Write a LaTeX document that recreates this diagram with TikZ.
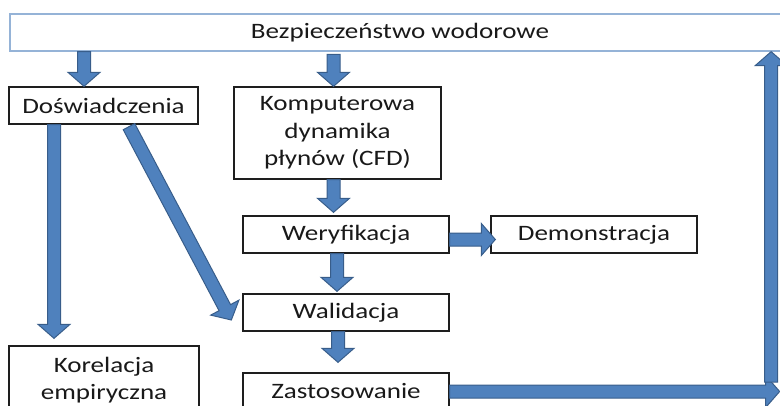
\documentclass[tikz,border=0pt]{standalone}
\usepackage{fontspec}
\setmainfont{Carlito}[FakeStretch=1.23]
\usetikzlibrary{calc}

\definecolor{arrowfill}{RGB}{79,129,189}
\definecolor{arrowedge}{RGB}{56,93,138}
\definecolor{topline}{RGB}{149,179,215}
\definecolor{boxline}{RGB}{30,30,30}
\definecolor{textcol}{RGB}{25,25,25}

% block arrow from #1 to #2
\newcommand\flowarrow[2]{%
  \coordinate (fs) at (#1);
  \coordinate (fe) at (#2);
  \coordinate (fh) at ($(fe)!14pt!(fs)$);
  \draw[flow] ($(fs)!6.5pt!90:(fe)$) -- ($(fh)!6.5pt!90:(fe)$) -- ($(fh)!16pt!90:(fe)$) -- (fe)
    -- ($(fh)!16pt!-90:(fe)$) -- ($(fh)!6.5pt!-90:(fe)$) -- ($(fs)!6.5pt!-90:(fe)$) -- cycle;
}

\begin{document}
\begin{tikzpicture}[
  x=1pt, y=-1pt,
  box/.style={draw=boxline, line width=1.3pt, text=textcol, align=center, inner sep=0pt,
    minimum width=206pt, minimum height=37pt, font=\fontsize{22}{27.5}\selectfont},
  topbox/.style={box, draw=topline, minimum width=780pt},
  flow/.style={fill=arrowfill, draw=arrowedge, line width=1pt, line join=miter}
]
\useasboundingbox (0,0) rectangle (780,405);
\clip (0,0) rectangle (780,405);

\node[topbox] (top) at (400,32.5) {Bezpieczeństwo wodorowe};
\node[box, minimum width=189pt] (dos) at (103.5,105.5) {Doświadczenia};
\node[box, minimum width=207pt, minimum height=92pt] (komp) at (337.5,133) {Komputerowa\\dynamika\\płynów (CFD)};
\node[box] (wer) at (346,234.5) {Weryfikacja};
\node[box] (demo) at (594,234.5) {Demonstracja};
\node[box] (wal) at (346,312.5) {Walidacja};
\node[box] (zast) at (346,391.5) {Zastosowanie};
\node[box, minimum width=190pt, minimum height=68pt] (kor) at (104,380) {Korelacja\\empiryczna};

% arrow ends
\coordinate (a1e) at ($(dos.north)+(-19.5,0)$);
\coordinate (a2e) at ($(komp.north)+(-4,0)$);
\coordinate (a2s) at ($(a2e)+(0,-32)$);
\coordinate (a3s) at ($(komp.south)+(-4,0)$);
\coordinate (a3e) at ($(a3s |- wer.north)+(0,-3)$);
\coordinate (a4s) at ($(wer.east)+(0,5)$);
\coordinate (a4e) at ($(a4s -| demo.west)+(5,0)$);
\coordinate (a5s) at ($(wer.south)+(-9,0)$);
\coordinate (a5e) at ($(a5s |- wal.north)+(0,-2)$);
\coordinate (a6s) at ($(wal.south)+(-8,0)$);
\coordinate (a6e) at ($(a6s |- zast.north)+(0,-10)$);
\coordinate (a7s) at ($(dos.south)+(-49.5,0)$);
\coordinate (a7e) at ($(a7s |- kor.north)+(0,-7)$);
\coordinate (a8s) at ($(dos.south)+(25.5,2)$);
\coordinate (a8e) at ($(wal.west)+(-11,7.5)$);
\coordinate (a9e) at ($(zast.east)+(330,0)$);
\coordinate (a10s) at ($(a9e)+(-8.5,-9.5)$);

\flowarrow{top.south -| a1e}{a1e}
\flowarrow{a2s}{a2e}
\flowarrow{a3s}{a3e}
\flowarrow{a4s}{a4e}
\flowarrow{a5s}{a5e}
\flowarrow{a6s}{a6e}
\flowarrow{a7s}{a7e}
\flowarrow{a8s}{a8e}
\flowarrow{zast.east}{a9e}
\flowarrow{a10s}{a10s |- top.south}
\end{tikzpicture}
\end{document}
